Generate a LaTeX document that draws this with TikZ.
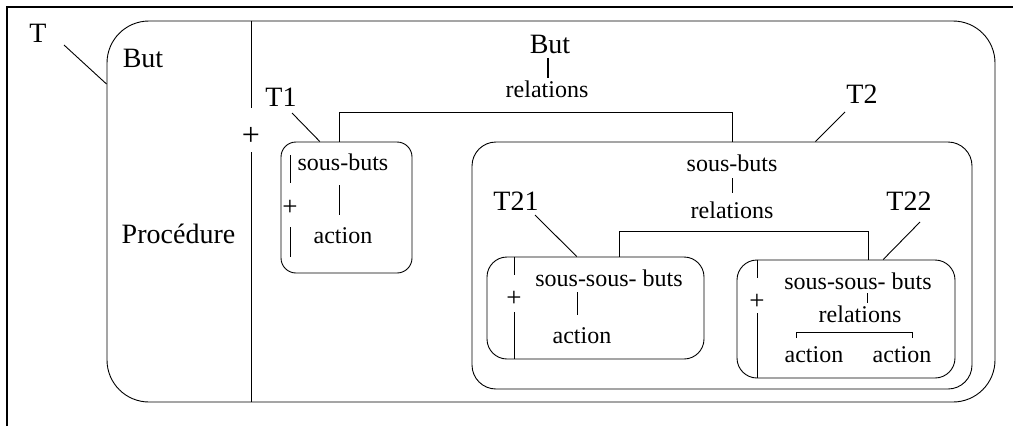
\documentclass[tikz,border=0pt]{standalone}
\usepackage{fontspec}
\setmainfont{Liberation Serif}

\tikzset{
  biglbl/.style={font=\fontsize{28}{30}\selectfont, inner sep=0pt, anchor=base},
  smalltxt/.style={font=\fontsize{24}{26}\selectfont, inner sep=0pt, anchor=base},
  plussign/.style={font=\fontsize{#1}{#1}\selectfont, inner sep=0pt},
  taskbox/.style={draw, rounded corners=#1, inner sep=0pt}
}

\begin{document}
\begin{tikzpicture}[x=1pt, y=-1pt, line width=0.9pt]
    \useasboundingbox (0,0) rectangle (1015,426);

    % Frame
    \draw[line width=2.5pt] (7,426) -- (7,7) -- (1013,7);

    % Task T
    \node[taskbox=42pt, minimum width=888pt, minimum height=381pt] (outer) at (551,211.5) {};
    \node[biglbl] (tlab) at (38,42) {T};
    \draw ([shift={(17,3)}]tlab.base east) -- (outer.164.6);
    \node[biglbl] (but) at (143,67) {But};
    \node[biglbl] (proc) at (178.5,243) {Procédure};

    % Divider with +
    \node[plussign=32] (pdiv) at (251,136) {+};
    \draw (pdiv |- outer.north) -- ([shift={(0,-28)}]pdiv.center);
    \draw ([shift={(0,16)}]pdiv.center) -- (pdiv |- outer.south);

    % Top goal and relations
    \node[biglbl] (butTop) at (550,53) {But};
    \node[smalltxt] (relTop) at (547,97) {relations};
    \draw[line width=2pt] ([shift={(-2,5)}]butTop.base) -- ([shift={(1,-19)}]relTop.base);

    % Task T1
    \node[taskbox=15pt, minimum width=131pt, minimum height=131pt] (t1box) at (346.5,207.5) {};
    \node[biglbl] (t1lab) at (281,106) {T1};
    \draw ([shift={(-5,7)}]t1lab.base east) -- (t1box.112);
    \node[smalltxt] (sb1) at (343,170) {sous-buts};
    \node[smalltxt] (act1) at (343,243) {action};
    \draw ([shift={(-4,15)}]sb1.base) -- ([shift={(-4,-28)}]act1.base);
    \node[plussign=27] (p1) at (290,208) {+};
    \draw ([shift={(0,-53)}]p1.center) -- ([shift={(0,-25)}]p1.center);
    \draw ([shift={(0,19)}]p1.center) -- ([shift={(0,49)}]p1.center);

    % Task T2
    \node[taskbox=24pt, minimum width=500pt, minimum height=247pt] (t2box) at (722,265.5) {};
    \node[biglbl] (t2lab) at (862,103) {T2};
    \draw ([shift={(-1,9)}]t2lab.base west) -- (t2box.53.6);
    \node[smalltxt] (sb2) at (732,171) {sous-buts};
    \node[smalltxt] (rel2) at (732,218) {relations};
    \draw ([shift={(0,7)}]sb2.base) -- ([shift={(0,-25)}]rel2.base);

    % Relations between T1 and T2
    \coordinate (b1) at (339,112);
    \coordinate (b2) at (732,112);
    \draw (b1 |- t1box.north) -- (b1) -- (b2) -- (b2 |- t2box.north);

    % Task T21
    \node[taskbox=20pt, minimum width=217pt, minimum height=102pt] (t21box) at (595.5,308) {};
    \node[biglbl] (t21lab) at (516,210) {T21};
    \draw ([shift={(-4,5)}]t21lab.base east) -- (t21box.110);
    \node[smalltxt] (ssb21) at (609,286) {sous-sous- buts};
    \node[smalltxt] (act21) at (582,343) {action};
    \draw ([shift={(-32,6)}]ssb21.base) -- ([shift={(-5,-28)}]act21.base);
    \node[plussign=27] (p21) at (514,299) {+};
    \draw (p21 |- t21box.north) -- ([shift={(0,-24)}]p21.center);
    \draw ([shift={(0,13)}]p21.center) -- (p21 |- t21box.south);

    % Task T22
    \node[taskbox=20pt, minimum width=218pt, minimum height=118pt] (t22box) at (846,319) {};
    \node[biglbl] (t22lab) at (909,210) {T22};
    \draw ([shift={(34,12)}]t22lab.base west) -- (t22box.58.6);
    \node[smalltxt] (ssb22) at (858,289) {sous-sous- buts};
    \node[smalltxt] (rel22) at (860,322) {relations};
    \draw ([shift={(9,4)}]ssb22.base) -- ([shift={(7,-19)}]rel22.base);
    \node[smalltxt] (act22a) at (814,362) {action};
    \node[smalltxt] (act22b) at (902,362) {action};
    \draw ([shift={(-18,-24)}]act22a.base) -- ++(0,-6) -| ([shift={(10,-24)}]act22b.base);
    \node[plussign=27] (p22) at (757,302) {+};
    \draw (p22 |- t22box.north) -- ([shift={(0,-24)}]p22.center);
    \draw ([shift={(0,11)}]p22.center) -- (p22 |- t22box.south);

    % Relations between T21 and T22
    \coordinate (b21) at (619,231);
    \coordinate (b22) at (868,231);
    \draw (b21 |- t21box.north) -- (b21) -- (b22) -- (b22 |- t22box.north);
\end{tikzpicture}
\end{document}
